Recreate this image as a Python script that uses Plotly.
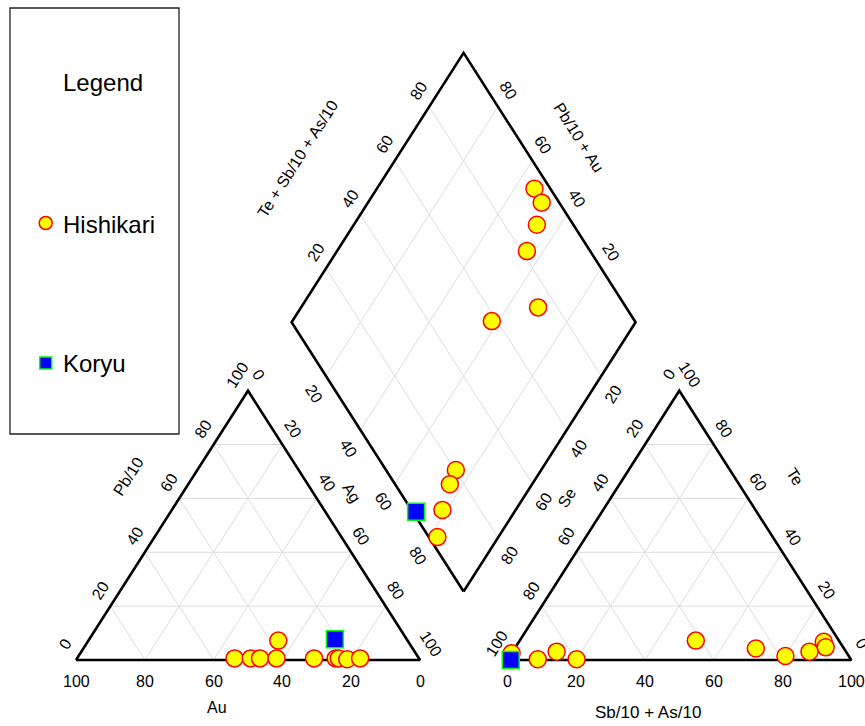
import math
import plotly.graph_objects as go

# ---------------------------------------------------------------------------
# Sample compositions (percent).  Cation triangle: Pb/10, Au, Ag.
# Anion triangle: Te, Se, Sb/10 + As/10.
# ---------------------------------------------------------------------------
hishikari_pb10 = [0.6, 0.6, 0.6, 7.2, 0.6, 0.6, 0.6, 0.6, 0.3, 0.6]
hishikari_au = [53.6, 48.9, 46.2, 37.6, 41.4, 30.5, 24.2, 23.3, 21.0, 17.1]
hishikari_ag = [45.8, 50.5, 53.2, 55.2, 58.0, 68.9, 75.2, 76.1, 78.7, 82.3]
hishikari_te = [6.8, 4.7, 3.1, 1.5, 7.2, 4.3, 0.3, 3.1, 0.3, 2.5]
hishikari_se = [4.6, 5.1, 10.6, 18.4, 41.6, 25.6, 79.7, 84.1, 91.0, 97.5]
hishikari_sbas = [88.6, 90.2, 86.3, 80.1, 51.2, 70.1, 20.0, 12.8, 8.7, 0.0]

koryu_pb10 = [7.7]
koryu_au = [20.9]
koryu_ag = [71.4]
koryu_te = [0.0]
koryu_se = [99.0]
koryu_sbas = [1.0]

tick_values = [0, 20, 40, 60, 80, 100]
grid_values = [20, 40, 60, 80]

# ---------------------------------------------------------------------------
# Layout geometry (canvas units = pixels)
# ---------------------------------------------------------------------------
W, H = 865, 726
SIDE = 344.0
TRI_H = 269.3
HALF = SIDE / 2

cat_bl = (76.0, 660.0)
cat_br = (cat_bl[0] + SIDE, cat_bl[1])
cat_top = (cat_bl[0] + HALF, cat_bl[1] - TRI_H)

an_bl = (507.3, 660.0)
an_br = (an_bl[0] + SIDE, an_bl[1])
an_top = (an_bl[0] + HALF, an_bl[1] - TRI_H)

dm_bottom = (463.6, 591.5)
dm_left = (dm_bottom[0] - HALF, dm_bottom[1] - TRI_H)
dm_right = (dm_bottom[0] + HALF, dm_bottom[1] - TRI_H)
dm_top = (dm_bottom[0], dm_bottom[1] - 2 * TRI_H)

ANG = math.degrees(math.atan2(TRI_H, HALF))
_n = math.hypot(HALF, TRI_H)
UX, UY = HALF / _n, TRI_H / _n

FONT = "Liberation Sans, Arial, sans-serif"
GRID = "#dcdcdc"


def tern(w_bl, w_br, w_top, bl, br, top):
    """Barycentric point from three percentages."""
    s = w_bl + w_br + w_top
    x = (w_bl * bl[0] + w_br * br[0] + w_top * top[0]) / s
    y = (w_bl * bl[1] + w_br * br[1] + w_top * top[1]) / s
    return x, y


def cation(pb, au, ag):
    return tern(au, ag, pb, cat_bl, cat_br, cat_top)


def anion(te, se, sbas):
    return tern(se, sbas, te, an_bl, an_br, an_top)


def diamond(a, b):
    """a = Pb/10 + Au, b = Te + Sb/10 + As/10."""
    x = dm_bottom[0] + a / 100 * (dm_left[0] - dm_bottom[0]) + b / 100 * (dm_right[0] - dm_bottom[0])
    y = dm_bottom[1] + a / 100 * (dm_left[1] - dm_bottom[1]) + b / 100 * (dm_right[1] - dm_bottom[1])
    return x, y


def lerp(p, q, t):
    return p[0] + (q[0] - p[0]) * t, p[1] + (q[1] - p[1]) * t


fig = go.Figure()

# ---------------------------------------------------------------------------
# Grid lines
# ---------------------------------------------------------------------------
gx, gy = [], []


def seg(p, q):
    gx.extend([p[0], q[0], None])
    gy.extend([p[1], q[1], None])


for v in grid_values:
    r = 100 - v
    seg(cation(v, r, 0), cation(v, 0, r))   # Pb/10
    seg(cation(0, v, r), cation(r, v, 0))   # Au
    seg(cation(0, r, v), cation(r, 0, v))   # Ag
    seg(anion(v, r, 0), anion(v, 0, r))     # Te
    seg(anion(0, v, r), anion(r, v, 0))     # Se
    seg(anion(0, r, v), anion(r, 0, v))     # Sb/10 + As/10
    seg(diamond(v, 0), diamond(v, 100))
    seg(diamond(0, v), diamond(100, v))

fig.add_trace(go.Scatter(x=gx, y=gy, mode="lines", line=dict(color=GRID, width=1),
                         hoverinfo="skip", showlegend=False))

# ---------------------------------------------------------------------------
# Outlines
# ---------------------------------------------------------------------------
ox, oy = [], []
for poly in ((cat_bl, cat_br, cat_top, cat_bl),
             (an_bl, an_br, an_top, an_bl),
             (dm_bottom, dm_right, dm_top, dm_left, dm_bottom)):
    for p in poly:
        ox.append(p[0])
        oy.append(p[1])
    ox.append(None)
    oy.append(None)
fig.add_trace(go.Scatter(x=ox, y=oy, mode="lines", line=dict(color="black", width=2.6),
                         hoverinfo="skip", showlegend=False))

# ---------------------------------------------------------------------------
# Tick labels and axis titles
# ---------------------------------------------------------------------------
annotations = []


def text(x, y, s, angle=0, size=16, xanchor="center"):
    annotations.append(dict(x=x, y=y, xref="x", yref="y", text=s, showarrow=False,
                            textangle=angle, xanchor=xanchor, yanchor="middle",
                            font=dict(family=FONT, size=size, color="black")))


D = 19.0
D2 = 21.5
BOTTOM_OFF = 21.7

for v in tick_values:
    # cation triangle
    x, y = cation(0, 100 - v, v)
    text(x, y + BOTTOM_OFF, str(100 - v))                       # Au along bottom
    x, y = lerp(cat_bl, cat_top, v / 100)
    text(x - UX * D, y - UY * D, str(v), -ANG)                  # Pb/10 on left edge
    x, y = lerp(cat_top, cat_br, v / 100)
    text(x + UX * D, y - UY * D, str(v), ANG)                   # Ag on right edge
    # anion triangle
    x, y = lerp(an_bl, an_br, v / 100)
    text(x, y + BOTTOM_OFF, str(v))                             # Sb/10 + As/10
    x, y = lerp(an_top, an_bl, v / 100)
    text(x - UX * D, y - UY * D, str(v), -ANG)                  # Se on left edge
    x, y = lerp(an_br, an_top, v / 100)
    text(x + UX * D, y - UY * D, str(v), ANG)                   # Te on right edge

for v in grid_values:
    x, y = lerp(dm_left, dm_top, v / 100)
    text(x - UX * D, y - UY * D, str(v), -ANG)                  # Te + Sb/10 + As/10
    x, y = lerp(dm_right, dm_top, v / 100)
    text(x + UX * D, y - UY * D, str(v), ANG)                   # Pb/10 + Au
    x, y = lerp(dm_left, dm_bottom, v / 100)
    text(x - UX * D2, y + UY * D2, str(v), ANG)                 # Ag
    x, y = lerp(dm_right, dm_bottom, v / 100)
    text(x + UX * D2, y + UY * D2, str(v), -ANG)                # Se

text(217, 707.5, "Au")
text(128, 476, "Pb/10", -ANG)
text(351.5, 492.5, "Ag", ANG)
text(648, 712.5, "Sb/10 + As/10", size=17)
text(567, 497.5, "Se", -ANG)
text(795, 476, "Te", ANG)
text(297, 159, "Te + Sb/10 + As/10", -ANG)
text(579, 137, "Pb/10 + Au", ANG)

# ---------------------------------------------------------------------------
# Samples
# ---------------------------------------------------------------------------
HISH = dict(symbol="circle", size=17, color="#ffff00", line=dict(color="#ff0000", width=1.5))
KORY = dict(symbol="square", size=17, color="#0000ff", line=dict(color="#00ff00", width=1.5))


def plot_group(pb, au, ag, te, se, sbas, marker, name):
    pts = [cation(p, u, g) for p, u, g in zip(pb, au, ag)]
    pts += [anion(t, s, b) for t, s, b in zip(te, se, sbas)]
    pts += [diamond(p + u, t + b) for p, u, t, b in zip(pb, au, te, sbas)]
    fig.add_trace(go.Scatter(x=[p[0] for p in pts], y=[p[1] for p in pts], mode="markers",
                             marker=marker, name=name, showlegend=False, hoverinfo="skip"))


plot_group(hishikari_pb10, hishikari_au, hishikari_ag,
           hishikari_te, hishikari_se, hishikari_sbas, HISH, "Hishikari")
plot_group(koryu_pb10, koryu_au, koryu_ag,
           koryu_te, koryu_se, koryu_sbas, KORY, "Koryu")

# ---------------------------------------------------------------------------
# Legend box
# ---------------------------------------------------------------------------
shapes = [dict(type="rect", xref="x", yref="y", x0=10, x1=179, y0=8, y1=434,
               line=dict(color="#222222", width=1.3), fillcolor="rgba(0,0,0,0)")]
text(103, 82, "Legend", size=24)
fig.add_trace(go.Scatter(x=[45.7], y=[223], mode="markers", hoverinfo="skip", showlegend=False,
                         marker=dict(symbol="circle", size=13, color="#ffff00",
                                     line=dict(color="#ff0000", width=1.5))))
text(61, 224, "Hishikari", size=24, xanchor="left")
fig.add_trace(go.Scatter(x=[45.7], y=[363], mode="markers", hoverinfo="skip", showlegend=False,
                         marker=dict(symbol="square", size=12, color="#0000ff",
                                     line=dict(color="#00ff00", width=1.5))))
text(61, 363, "Koryu", size=24, xanchor="left")

fig.update_layout(
    width=W, height=H,
    margin=dict(l=0, r=0, t=0, b=0),
    paper_bgcolor="white", plot_bgcolor="white",
    xaxis=dict(range=[0, W], visible=False, fixedrange=True),
    yaxis=dict(range=[H, 0], visible=False, fixedrange=True),
    annotations=annotations, shapes=shapes,
    showlegend=False,
)

fig.write_html("out.html", config={"displayModeBar": False})
